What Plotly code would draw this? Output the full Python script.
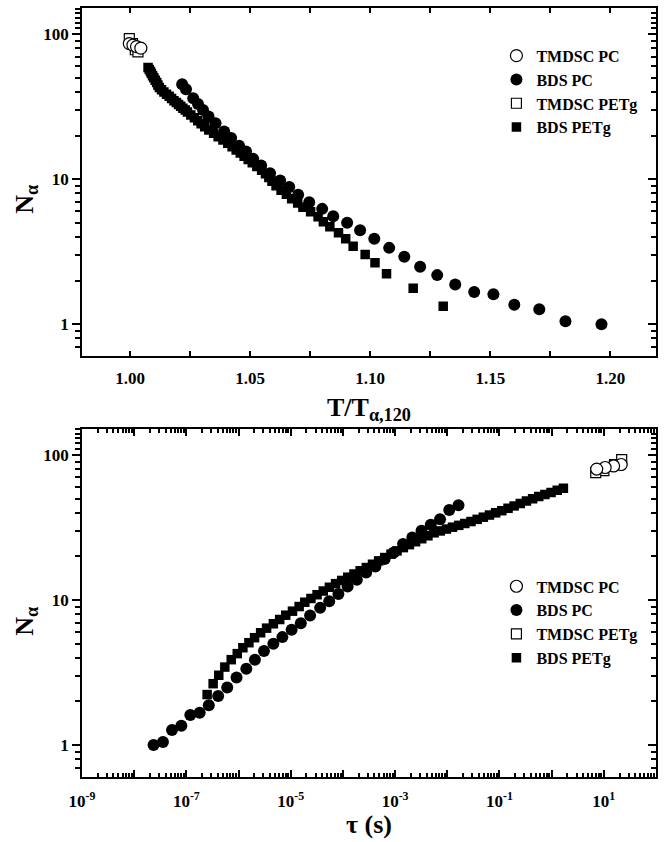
import plotly.graph_objects as go

FONT = "Liberation Serif"

# ---------------- data ----------------
# Top panel: T/T_alpha,120 ; bottom panel: tau (s) ; both: N_alpha
tmdsc_pc_T = [0.9997, 1.0012, 1.0027, 1.0045]
tmdsc_pc_N = [86, 84, 82, 80]
tmdsc_pc_tau = [21.5, 15.4, 10.6, 7.3]

tmdsc_petg_T = [0.9997, 1.0010, 1.0022, 1.0033]
tmdsc_petg_N = [93, 86, 78, 75.5]
tmdsc_petg_tau = [22, 16, 10, 7]

bds_pc_N = [45.1, 41.7, 36.1, 33.0, 30.0, 27.0, 24.3, 21.3, 19.2, 17.0, 15.5, 13.8,
            12.4, 11.0, 9.8, 8.83, 7.82, 6.93, 6.24, 5.55, 5.0, 4.45, 3.88, 3.36,
            2.92, 2.49, 2.18, 1.88, 1.67, 1.61, 1.36, 1.27, 1.05, 1.0]
bds_pc_T = [1.0217, 1.0233, 1.0263, 1.0283, 1.0304, 1.0327, 1.0356, 1.0392, 1.0421,
            1.0454, 1.0483, 1.0513, 1.0546, 1.0583, 1.0625, 1.0663, 1.0700, 1.0746,
            1.0800, 1.0846, 1.0904, 1.0958, 1.1017, 1.1079, 1.1142, 1.1208, 1.1279,
            1.1354, 1.1433, 1.1513, 1.1600, 1.1704, 1.1813, 1.1963]
bds_pc_tau = [1.64e-2, 1.09e-2, 7.26e-3, 4.83e-3, 3.21e-3, 2.14e-3, 1.42e-3, 9.46e-4,
              6.30e-4, 4.19e-4, 2.79e-4, 1.85e-4, 1.23e-4, 8.20e-5, 5.46e-5, 3.66e-5,
              2.35e-5, 1.56e-5, 1.04e-5, 6.92e-6, 4.65e-6, 3.07e-6, 2.06e-6, 1.41e-6,
              9.16e-7, 6.07e-7, 4.07e-7, 2.69e-7, 1.80e-7, 1.19e-7, 8.02e-8, 5.31e-8,
              3.56e-8, 2.35e-8]

bds_petg_N_top = [58.88, 57.02, 55.19, 53.42, 51.71, 49.96, 48.10, 46.30, 44.57, 42.90,
                  41.30, 39.90, 38.55, 37.25, 35.99, 34.78, 33.71, 32.73, 31.78, 30.85,
                  29.95, 29.07, 27.73, 26.46, 25.24, 24.08, 22.98, 21.83, 20.71, 19.63,
                  18.62, 17.65, 16.75, 15.91, 15.12, 14.37, 13.65, 12.97, 12.25, 11.54,
                  10.88, 10.25, 9.66, 9.02, 8.38, 7.86, 7.34, 6.86, 6.40, 5.95, 5.50,
                  5.08, 4.69, 4.27, 3.88, 3.45, 3.03, 2.65, 2.23, 1.77, 1.33]
bds_petg_T = [1.0075, 1.0080, 1.0085, 1.0089, 1.0094, 1.0099, 1.0105, 1.0111, 1.0116,
              1.0122, 1.0131, 1.0141, 1.0152, 1.0163, 1.0173, 1.0183, 1.0193, 1.0202,
              1.0211, 1.0220, 1.0230, 1.0239, 1.0253, 1.0268, 1.0282, 1.0296, 1.0311,
              1.0328, 1.0348, 1.0367, 1.0387, 1.0407, 1.0425, 1.0442, 1.0459, 1.0475,
              1.0492, 1.0509, 1.0528, 1.0548, 1.0564, 1.0578, 1.0591, 1.0608, 1.0629,
              1.0651, 1.0673, 1.0698, 1.0720, 1.0752, 1.0783, 1.0805, 1.0832, 1.0868,
              1.0898, 1.0929, 1.0979, 1.1020, 1.1068, 1.1179, 1.1304]
bds_petg_N_bot = [58.88, 57.02, 55.19, 53.42, 51.71, 49.96, 48.10, 46.30, 44.57, 42.90,
                  41.30, 39.90, 38.55, 37.25, 35.99, 34.78, 33.71, 32.73, 31.78, 30.85,
                  29.95, 29.07, 27.73, 26.46, 25.24, 24.08, 22.98, 21.83, 20.71, 19.63,
                  18.62, 17.65, 16.75, 15.91, 15.12, 14.37, 13.65, 12.97, 12.25, 11.54,
                  10.88, 10.25, 9.66, 9.02, 8.38, 7.86, 7.34, 6.86, 6.40, 5.95, 5.50,
                  5.08, 4.69, 4.27, 3.88, 3.45, 3.03, 2.65, 2.23]
bds_petg_tau = [1.68, 1.28, 0.975, 0.743, 0.566, 0.432, 0.329, 0.251, 0.191, 0.146, 0.111,
                8.45e-2, 6.44e-2, 4.91e-2, 3.74e-2, 2.85e-2, 2.17e-2, 1.66e-2, 1.26e-2,
                9.62e-3, 7.33e-3, 5.58e-3, 4.26e-3, 3.24e-3, 2.47e-3, 1.88e-3, 1.44e-3,
                1.09e-3, 8.34e-4, 6.35e-4, 4.84e-4, 3.69e-4, 2.81e-4, 2.14e-4, 1.63e-4,
                1.24e-4, 9.48e-5, 7.23e-5, 5.51e-5, 4.20e-5, 3.20e-5, 2.44e-5, 1.86e-5,
                1.45e-5, 1.08e-5, 8.02e-6, 6.14e-6, 4.65e-6, 3.45e-6, 2.65e-6, 2.03e-6,
                1.58e-6, 1.21e-6, 9.44e-7, 7.24e-7, 5.46e-7, 4.18e-7, 3.26e-7, 2.50e-7]

series_names = ["TMDSC PC", "BDS PC", "TMDSC PETg", "BDS PETg"]

top_xticks = [1.00, 1.05, 1.10, 1.15, 1.20]
top_xticktext = ["1.00", "1.05", "1.10", "1.15", "1.20"]
n_ticks = [1, 10, 100]
n_ticktext = ["1", "10", "100"]
tau_exps = list(range(-9, 3))
tau_ticktext = ["10<sup>%d</sup>" % e if e % 2 != 0 else "" for e in tau_exps]

# ---------------- figure ----------------
fig = go.Figure()


def add(x, y, name, symbol, filled, size, xa, ya, legend, rank):
    fig.add_trace(go.Scatter(
        x=x, y=y, mode="markers", name=name, xaxis=xa, yaxis=ya,
        legend=legend, legendrank=rank, hoverinfo="skip",
        marker=dict(symbol=symbol, size=size,
                    color="black" if filled else "white",
                    line=dict(color="black", width=0 if filled else 1.2))))


# top panel
add(bds_petg_T, bds_petg_N_top, series_names[3], "square", True, 9.5, "x", "y", "legend", 4)
add(bds_pc_T, bds_pc_N, series_names[1], "circle", True, 12, "x", "y", "legend", 2)
add(tmdsc_petg_T, tmdsc_petg_N, series_names[2], "square", False, 10, "x", "y", "legend", 3)
add(tmdsc_pc_T, tmdsc_pc_N, series_names[0], "circle", False, 12, "x", "y", "legend", 1)
# bottom panel
add(bds_petg_tau, bds_petg_N_bot, series_names[3], "square", True, 9.5, "x2", "y2", "legend2", 4)
add(bds_pc_tau, bds_pc_N, series_names[1], "circle", True, 12, "x2", "y2", "legend2", 2)
add(tmdsc_petg_tau, tmdsc_petg_N, series_names[2], "square", False, 10, "x2", "y2", "legend2", 3)
add(tmdsc_pc_tau, tmdsc_pc_N, series_names[0], "circle", False, 12, "x2", "y2", "legend2", 1)
# empty traces to carry the right-hand tick axes
fig.add_trace(go.Scatter(x=[], y=[], xaxis="x", yaxis="y3", showlegend=False))
fig.add_trace(go.Scatter(x=[], y=[], xaxis="x2", yaxis="y4", showlegend=False))

tickfont = dict(family=FONT, size=17, color="black", weight="bold")
LW = 1.6

n_minor = [0.6, 0.7, 0.8, 0.9, 2, 3, 4, 5, 6, 7, 8, 9,
           20, 30, 40, 50, 60, 70, 80, 90, 110, 120, 130, 140, 150]
tau_minor = [k * 10.0 ** e for e in range(-9, 2) for k in range(2, 10)]

yrange = [-0.22, 2.18]
top_dom = [0.5473, 1.0]
bot_dom = [0.0, 0.4527]


def ylog(domain, anchor):
    return dict(domain=domain, anchor=anchor, type="log", range=yrange,
                tickmode="array", tickvals=n_ticks, ticktext=n_ticktext,
                ticks="outside", ticklen=8, tickwidth=LW, tickcolor="black",
                showline=True, linecolor="black", linewidth=LW, mirror=True,
                showgrid=False, zeroline=False, tickfont=tickfont, ticklabelstandoff=0,
                minor=dict(tickmode="array", tickvals=n_minor, ticks="outside",
                           ticklen=5, tickwidth=LW, tickcolor="black", showgrid=False))


def yright(domain, anchor, overlay):
    return dict(domain=domain, anchor=anchor, overlaying=overlay, side="right",
                type="log", range=yrange, tickmode="array", tickvals=n_ticks,
                showticklabels=False, ticks="inside", ticklen=8, tickwidth=LW,
                tickcolor="black", showline=False, showgrid=False, zeroline=False,
                minor=dict(tickmode="array", tickvals=n_minor, ticks="inside",
                           ticklen=5, tickwidth=LW, tickcolor="black", showgrid=False))


legend_font = dict(family=FONT, size=16, color="black", weight="bold")

fig.update_layout(
    width=666, height=842,
    margin=dict(l=82, r=10, t=6, b=65),
    paper_bgcolor="white", plot_bgcolor="white",
    font=dict(family=FONT, color="black"),
    xaxis=dict(domain=[0, 1], anchor="y", range=[0.98, 1.219],
               tickmode="array", tickvals=top_xticks, ticktext=top_xticktext,
               ticks="inside", ticklen=5, tickwidth=LW, tickcolor="black",
               showline=True, linecolor="black", linewidth=LW, mirror="ticks",
               showgrid=False, zeroline=False, tickfont=tickfont, ticklabelstandoff=6,
               minor=dict(dtick=0.025, tick0=1.0, ticks="inside", ticklen=5,
                          tickwidth=LW, tickcolor="black", showgrid=False)),
    yaxis=ylog(top_dom, "x"),
    yaxis3=yright(top_dom, "x", "y"),
    xaxis2=dict(domain=[0, 1], anchor="y2", type="log", range=[-9, 2],
                tickmode="array", tickvals=[10.0 ** e for e in tau_exps],
                ticktext=tau_ticktext,
                ticks="inside", ticklen=7, tickwidth=LW, tickcolor="black",
                showline=True, linecolor="black", linewidth=LW, mirror="ticks",
                showgrid=False, zeroline=False, tickfont=tickfont, ticklabelstandoff=8,
                minor=dict(tickmode="array", tickvals=tau_minor, ticks="inside",
                           ticklen=4, tickwidth=LW, tickcolor="black", showgrid=False)),
    yaxis2=ylog(bot_dom, "x2"),
    yaxis4=yright(bot_dom, "x2", "y2"),
    legend=dict(x=0.722, y=0.960, xanchor="left", yanchor="top",
                font=legend_font, bgcolor="rgba(0,0,0,0)", tracegroupgap=0),
    legend2=dict(x=0.722, y=0.270, xanchor="left", yanchor="top",
                 font=legend_font, bgcolor="rgba(0,0,0,0)", tracegroupgap=0),
    showlegend=True,
)

title_font = dict(family=FONT, size=26, color="black", weight="bold")
fig.add_annotation(text="T/T<sub>α,120</sub>", xref="paper", yref="paper",
                   x=0.5, y=0.478, xanchor="center", yanchor="middle",
                   showarrow=False, font=title_font)
fig.add_annotation(text="τ (s)", xref="paper", yref="paper",
                   x=0.5, y=-0.062, xanchor="center", yanchor="middle",
                   showarrow=False, font=title_font)
fig.add_annotation(text="N<sub>α</sub>", xref="paper", yref="paper",
                   x=-0.097, y=0.751, xanchor="center", yanchor="middle",
                   textangle=-90, showarrow=False, font=title_font)
fig.add_annotation(text="N<sub>α</sub>", xref="paper", yref="paper",
                   x=-0.097, y=0.2023, xanchor="center", yanchor="middle",
                   textangle=-90, showarrow=False, font=title_font)

fig.write_html("out.html", config={"displayModeBar": False},
               post_script="document.body.style.margin='0';")
